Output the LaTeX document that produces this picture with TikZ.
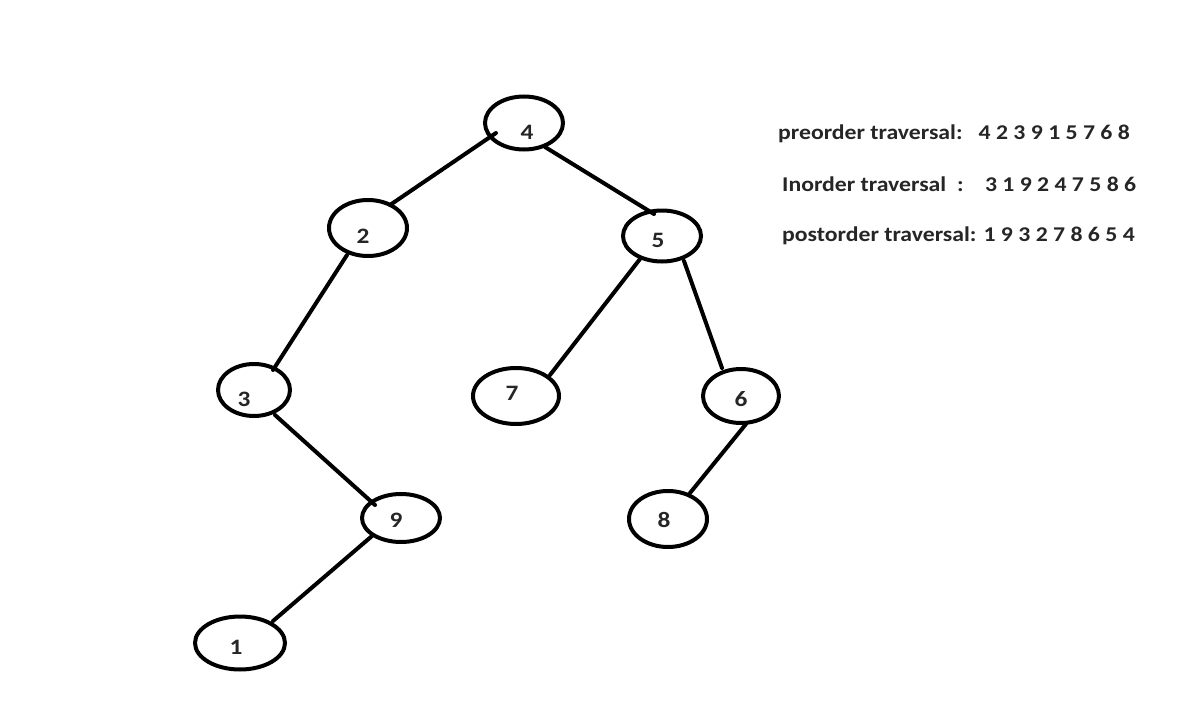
\documentclass[tikz,border=0pt]{standalone}
\usepackage{fontspec}
\setmainfont{Carlito}
\newfontfamily\wfont{Carlito}[FakeStretch=1.13]
\newfontfamily\nfont{Carlito}[FakeStretch=1.15]
\usetikzlibrary{shapes.geometric,calc}
\begin{document}
\begin{tikzpicture}[x=1pt,y=-1pt,
  tnode/.style={ellipse,draw=black,line width=4pt,inner sep=0pt,minimum width=#1},
  edge/.style={line width=4pt,line cap=round},
  lab/.style={font=\nfont\fontsize{22}{26}\selectfont\bfseries,text=black!85,inner sep=0pt},
  trav/.style={font=\wfont\fontsize{21}{25}\selectfont\bfseries,text=black!85,inner sep=0pt,anchor=west}]
\useasboundingbox[fill=white] (0,0) rectangle (1200,709);
% nodes
\node[tnode=78pt,minimum height=53pt,label={[lab,xshift=3pt,yshift=-9pt]center:4}] (n4) at (524,123) {};
\node[tnode=78pt,minimum height=56pt,label={[lab,xshift=-5pt,yshift=-8pt]center:2}] (n2) at (368,228) {};
\node[tnode=78pt,minimum height=51pt,label={[lab,xshift=-4pt,yshift=-4pt]center:5}] (n5) at (662,236) {};
\node[tnode=72pt,minimum height=52pt,label={[lab,xshift=-10pt,yshift=-9pt]center:3}] (n3) at (254,390) {};
\node[tnode=86pt,minimum height=56pt,label={[lab,xshift=-4pt,yshift=3pt]center:7}] (n7) at (516,396) {};
\node[tnode=76pt,minimum height=54pt,label={[lab,xshift=0pt,yshift=-3pt]center:6}] (n6) at (741,396) {};
\node[tnode=78pt,minimum height=48pt,label={[lab,xshift=-5pt,yshift=-2pt]center:9}] (n9) at (401,518) {};
\node[tnode=78pt,minimum height=56pt,label={[lab,xshift=-4pt,yshift=-1pt]center:8}] (n8) at (668,519) {};
\node[tnode=90pt,minimum height=53pt,label={[lab,xshift=-4pt,yshift=-4pt]center:1}] (n1) at (240,643) {};
% edges
\draw[edge] ($(n4)+(-28,10)$) -- ($(n2)+(22,-23)$);
\draw[edge] ($(n4)+(21,24)$) -- ($(n5)+(-8,-22)$);
\draw[edge] ($(n2)+(-21,27)$) -- ($(n3)+(19,-20)$);
\draw[edge] ($(n5)+(-22,23)$) -- ($(n7)+(34,-21)$);
\draw[edge] ($(n5)+(22,25)$) -- ($(n6)+(-19,-28)$);
\draw[edge] ($(n3)+(21,25)$) -- ($(n9)+(-26,-13)$);
\draw[edge] ($(n9)+(-29,18)$) -- ($(n1)+(33,-22)$);
\draw[edge] ($(n6)+(5,28)$) -- ($(n8)+(22,-26)$);
% traversals
\node[trav] (pre) at (778,134) {preorder traversal:\ \ \ 4 2 3 9 1 5 7 6 8};
\node[trav] (ino) at (782,184) {Inorder traversal\ \ :\ \ \ \ 3 1 9 2 4 7 5 8 6};
\node[trav] (post) at (782,236) {postorder traversal: 1 9 3 2 7 8 6 5 4};
\end{tikzpicture}
\end{document}
